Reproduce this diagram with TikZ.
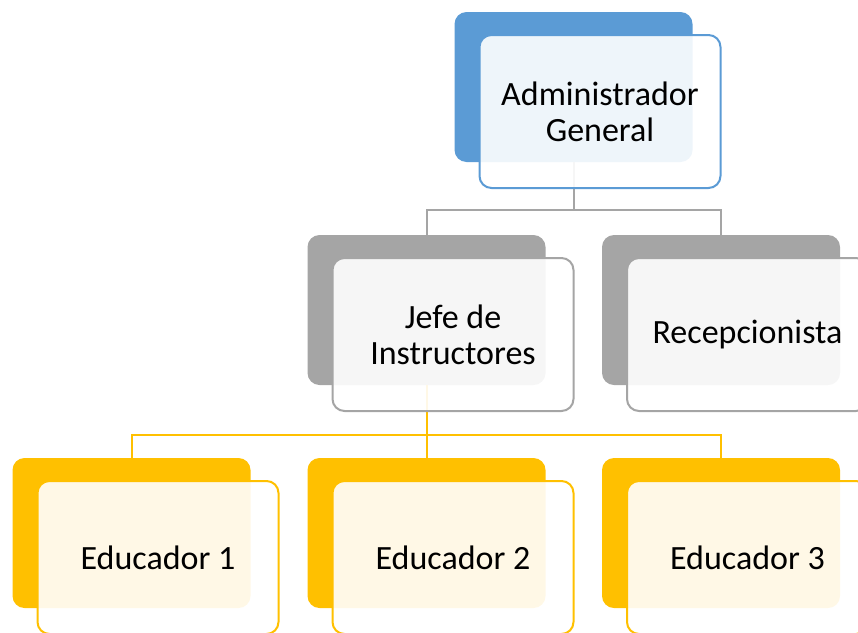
\documentclass[tikz,border=0pt]{standalone}
\usepackage{fontspec}
\setmainfont{Carlito}
\usetikzlibrary{calc,positioning}
\definecolor{adminblue}{HTML}{5B9BD5}
\definecolor{staffgray}{HTML}{A5A5A5}
\definecolor{edugold}{HTML}{FFC000}
\tikzset{
  backbox/.style={rectangle,rounded corners=12pt,inner sep=0pt,minimum width=238pt,minimum height=150pt,fill=#1},
  frontbox/.style={rectangle,rounded corners=12pt,inner sep=0pt,minimum width=241pt,minimum height=153pt,draw=#1,line width=2pt,fill=white,fill opacity=0.9,text opacity=1,align=center,font=\fontsize{34}{36}\selectfont},
  link/.style={draw=#1,line width=2pt}
}
\begin{document}
\begin{tikzpicture}[x=1pt,y=-1pt]
\path[use as bounding box] (0,0) rectangle (858,632);
\clip (0,0) rectangle (858,632);
\coordinate (shift) at (26.5,24.5);
% back boxes
\node[backbox=adminblue] (admin) at (573.5,87) {};
\node[backbox=staffgray] (jefe) at (426.5,310) {};
\node[backbox=staffgray] (recep) at (721,310) {};
\node[backbox=edugold] (edu1) at (131.5,533) {};
\node[backbox=edugold] (edu2) at (426.5,533) {};
\node[backbox=edugold] (edu3) at (721,533) {};
% connectors
\draw[link=staffgray] (admin.south) -- ++(0,48) coordinate (split1) -| (jefe.north);
\draw[link=staffgray] (split1) -| (recep.north);
\draw[link=edugold] (jefe.south) -- ++(0,50) coordinate (split2) -| (edu1.north);
\draw[link=edugold] (split2) -- (edu2.north);
\draw[link=edugold] (split2) -| (edu3.north);
% front boxes
\node[frontbox=adminblue] (adminF) at ($(admin)+(shift)$) {Administrador\\General};
\node[frontbox=staffgray] (jefeF) at ($(jefe)+(shift)$) {Jefe de\\Instructores};
\node[frontbox=staffgray] (recepF) at ($(recep)+(shift)$) {Recepcionista};
\node[frontbox=edugold] (edu1F) at ($(edu1)+(shift)$) {Educador 1};
\node[frontbox=edugold] (edu2F) at ($(edu2)+(shift)$) {Educador 2};
\node[frontbox=edugold] (edu3F) at ($(edu3)+(shift)$) {Educador 3};
\end{tikzpicture}
\end{document}
